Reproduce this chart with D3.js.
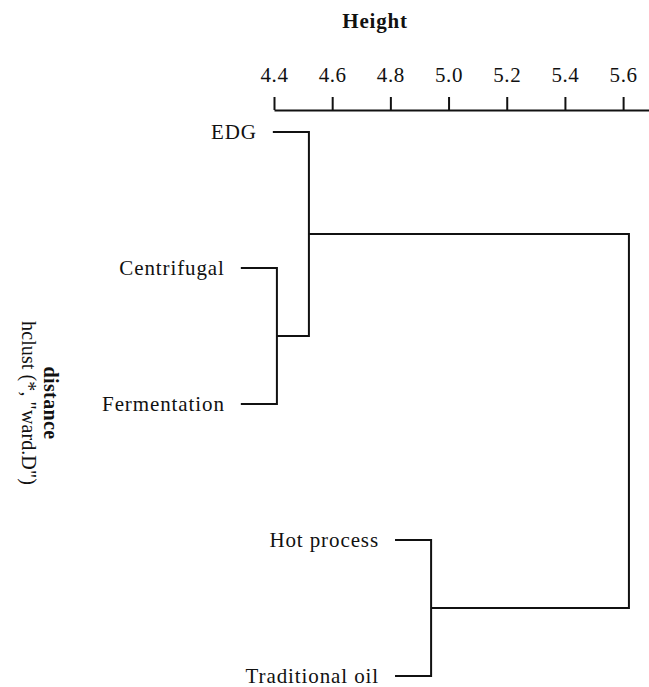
<!DOCTYPE html>
<html>
<head>
<meta charset="utf-8">
<script src="https://cdn.jsdelivr.net/npm/d3@7"></script>
<style>
  body { margin: 0; background: #fff; }
</style>
</head>
<body>
<div id="chart"></div>
<script>
// leaves in plotting order
var leafNames = ["EDG", "Centrifugal", "Fermentation", "Hot process", "Traditional oil"]
// hclust-style merge matrix (negative = leaf index+1, positive = earlier merge)
var merges = [[-2, -3], [-1, 1], [-4, -5], [2, 3]]
var mergeHeights = [4.41, 4.52, 4.94, 5.62]
var tickValues = [4.4, 4.6, 4.8, 5.0, 5.2, 5.4, 5.6]
var hang = 0.124

var width = 649, height = 687
var serif = "'Liberation Serif', 'Times New Roman', Times, serif"

var svg = d3.select("#chart").append("svg")
    .attr("width", width)
    .attr("height", height)
    .attr("font-family", serif)

var x = d3.scaleLinear().domain([4.4, 5.689]).range([274, 649])
var y = d3.scalePoint().domain(leafNames).range([132, 676])

// axis on top
var axis = svg.append("g")
    .attr("transform", "translate(0,110)")
    .call(d3.axisTop(x).tickValues(tickValues).tickFormat(d3.format(".1f"))
        .tickSize(13).tickPadding(15).tickSizeOuter(0))
    .attr("font-family", serif)
    .attr("font-size", 21)

axis.select(".domain").attr("stroke", "#111").attr("stroke-width", 2)
axis.selectAll(".tick line").attr("stroke", "#111").attr("stroke-width", 2)
axis.selectAll(".tick text")
    .attr("letter-spacing", 0.6)
    .attr("fill", "#111")

svg.append("text")
    .attr("x", 375).attr("y", 28)
    .attr("text-anchor", "middle")
    .attr("font-size", 21)
    .attr("font-weight", "bold")
    .attr("letter-spacing", 0.8)
    .attr("fill", "#111")
    .text("Height")

// y-axis label (rotated, two lines)
var ylab = svg.append("text")
    .attr("transform", "translate(44,403) rotate(90)")
    .attr("text-anchor", "middle")
    .attr("font-size", 20)
    .attr("fill", "#111")
ylab.append("tspan").attr("x", 0).attr("dy", 0).attr("font-weight", "bold").attr("letter-spacing", 0.4).text("distance")
ylab.append("tspan").attr("x", 0).attr("dy", 22).attr("letter-spacing", 0.1).text("hclust (*, \"ward.D\")")

// resolve node positions
var nodes = merges.map(function(m, i) { return { h: mergeHeights[i], kids: m } })
function pos(ref) {
    if (ref < 0) return { y: y(leafNames[-ref - 1]), h: null, leaf: -ref - 1 }
    var n = nodes[ref - 1]
    if (n.y === undefined) n.y = (pos(n.kids[0]).y + pos(n.kids[1]).y) / 2
    return { y: n.y, h: n.h }
}

var g = svg.append("g")
    .attr("fill", "none")
    .attr("stroke", "#111")
    .attr("stroke-width", 2)

nodes.forEach(function(n, i) {
    var top = pos(i + 1)
    n.kids.forEach(function(k) {
        var c = pos(k)
        var cx = c.h === null ? x(n.h - hang) : x(c.h)
        g.append("path")
            .attr("d", "M" + cx + "," + c.y + "H" + x(n.h) + "V" + top.y)
        if (c.leaf !== undefined) {
            svg.append("text")
                .attr("x", cx - 16).attr("y", c.y)
                .attr("dy", "0.35em")
                .attr("text-anchor", "end")
                .attr("font-size", 21)
                .attr("letter-spacing", 0.9)
                .attr("fill", "#111")
                .text(leafNames[c.leaf])
        }
    })
})
</script>
</body>
</html>
